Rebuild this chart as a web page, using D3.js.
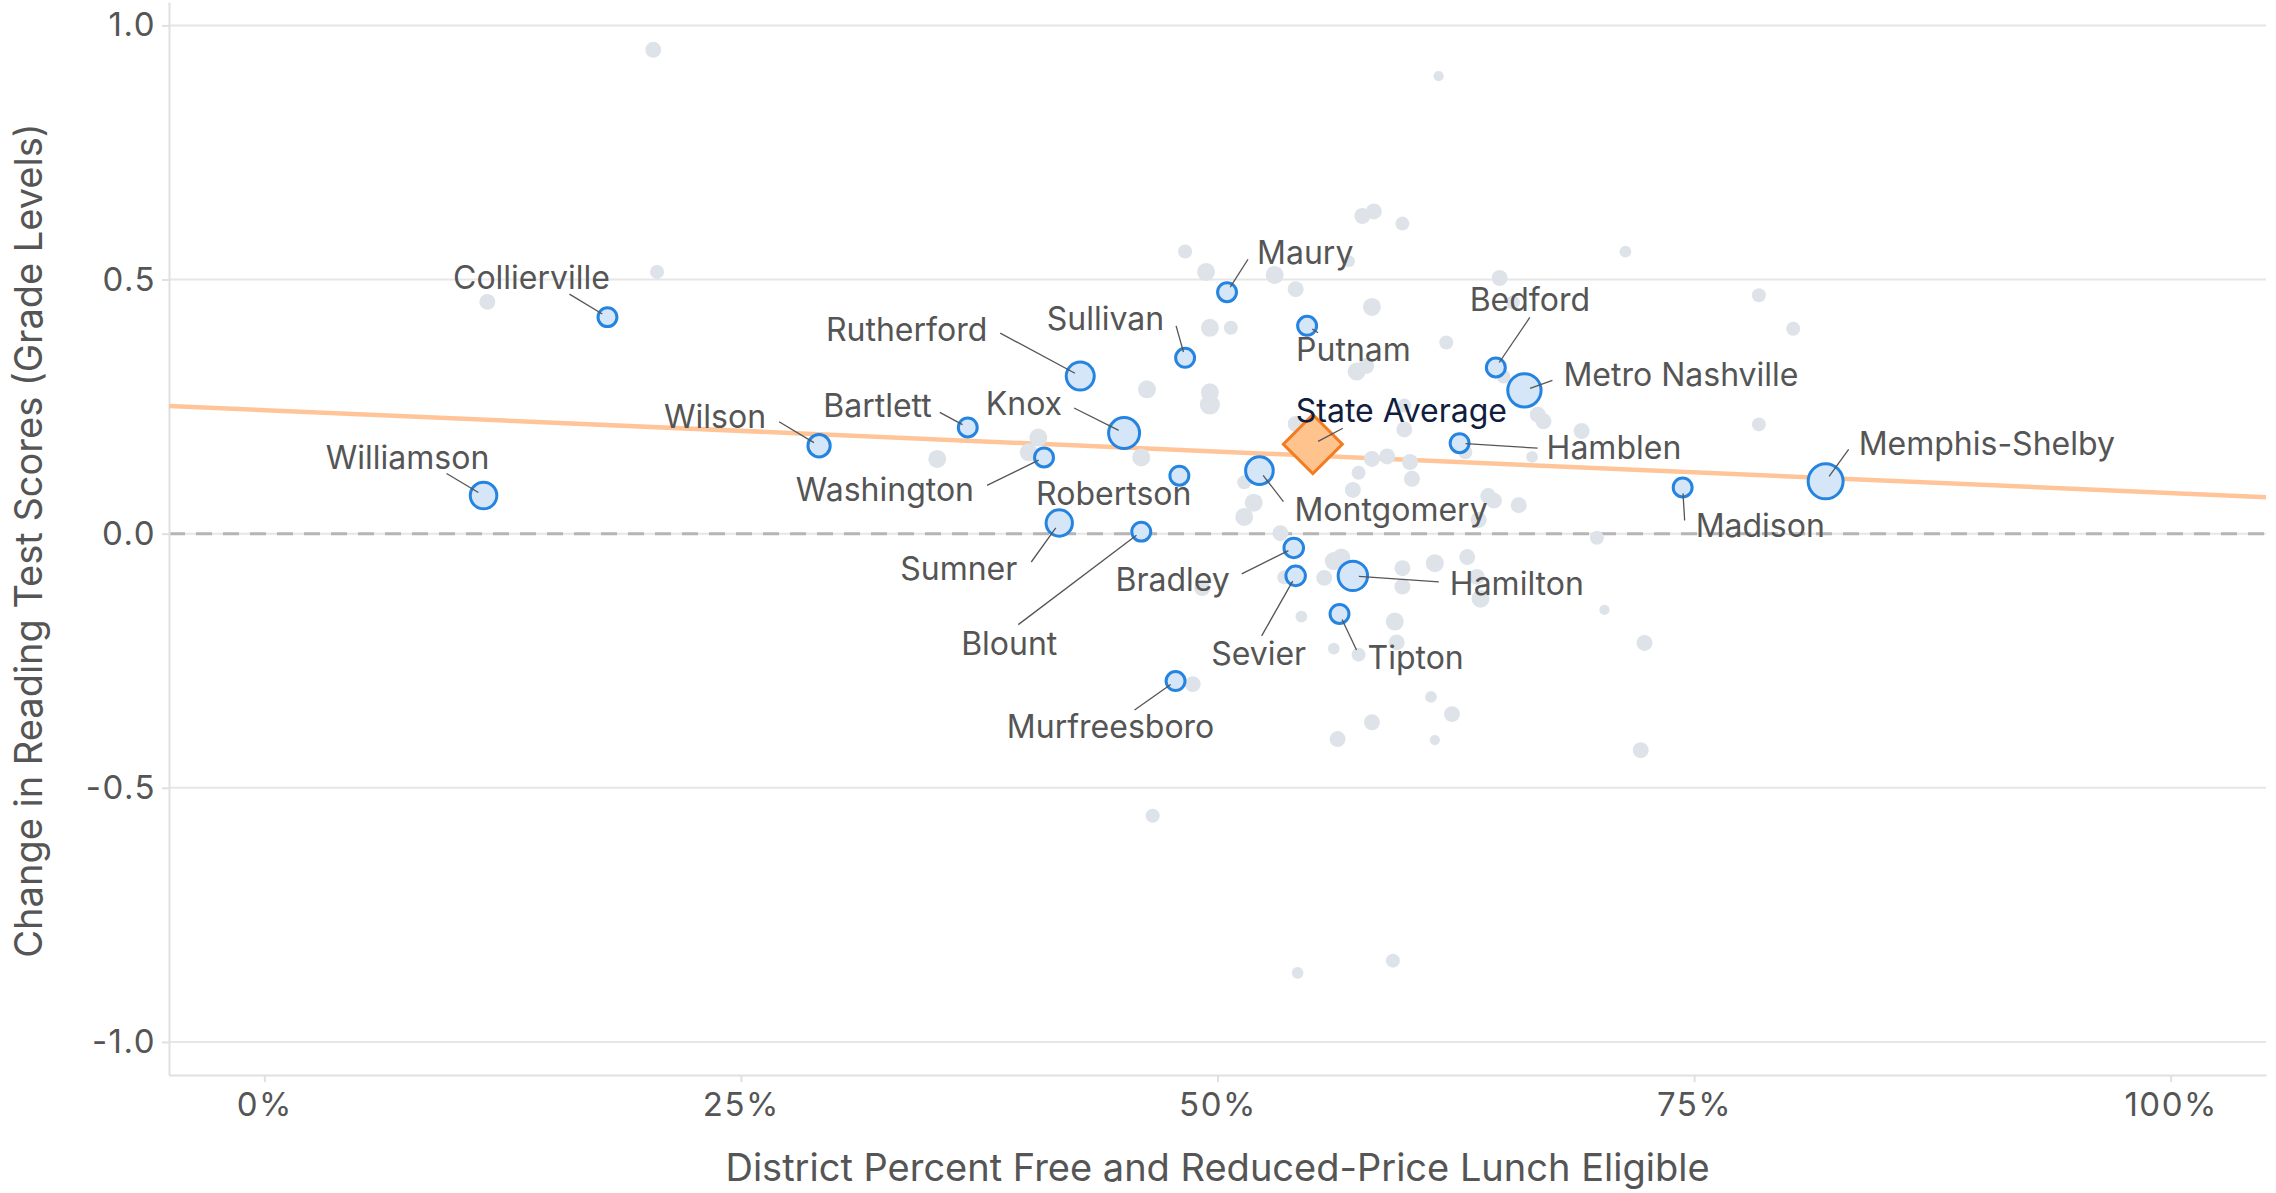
<!DOCTYPE html>
<html>
<head>
<meta charset="utf-8">
<script src="https://cdn.jsdelivr.net/npm/d3@7"></script>
<style>
body { margin: 0; background: #fff; }
text { font-family: Inter, "Noto Sans", sans-serif; }
</style>
</head>
<body>
<script>
//highlighted districts
let districtNames = ["Williamson", "Collierville", "Wilson", "Bartlett", "Washington", "Rutherford", "Knox", "Sullivan",
	"Robertson", "Sumner", "Blount", "Maury", "Montgomery", "Putnam", "Bradley", "Sevier", "Hamilton", "Tipton",
	"Murfreesboro", "Bedford", "Metro Nashville", "Hamblen", "Madison", "Memphis-Shelby"];
let districtFrl = [0.115, 0.180, 0.291, 0.369, 0.409, 0.428, 0.451, 0.483, 0.480, 0.417, 0.460, 0.505,
	0.522, 0.547, 0.540, 0.541, 0.571, 0.564, 0.478, 0.646, 0.661, 0.627, 0.744, 0.819];
let districtChange = [0.075, 0.426, 0.173, 0.209, 0.150, 0.310, 0.198, 0.346, 0.114, 0.021, 0.004, 0.475,
	0.124, 0.409, -0.028, -0.083, -0.083, -0.158, -0.290, 0.327, 0.282, 0.178, 0.091, 0.103];
let districtStudents = [61, 31, 43, 31, 31, 68, 83, 31, 31, 60, 31, 31, 66, 31, 33, 33, 75, 31, 31, 31, 96, 31, 31, 106]; //thousands

//all other districts
let otherFrl = [0.204, 0.117, 0.206, 0.616, 0.576, 0.582, 0.597, 0.483, 0.494, 0.530, 0.569, 0.541, 0.648, 0.581,
	0.496, 0.507, 0.620, 0.573, 0.578, 0.463, 0.496, 0.496, 0.668, 0.671, 0.598, 0.598, 0.691, 0.406, 0.401, 0.353,
	0.460, 0.665, 0.581, 0.589, 0.601, 0.574, 0.602, 0.514, 0.571, 0.519, 0.514, 0.642, 0.645, 0.658, 0.637, 0.533,
	0.561, 0.565, 0.597, 0.614, 0.631, 0.535, 0.556, 0.636, 0.597, 0.492, 0.638, 0.544, 0.593, 0.594, 0.561, 0.574,
	0.487, 0.612, 0.623, 0.581, 0.563, 0.614, 0.466, 0.542, 0.592, 0.703, 0.724, 0.722, 0.714, 0.784, 0.802, 0.784,
	0.699, 0.655, 0.650, 0.541, 0.630];
let otherChange = [0.952, 0.456, 0.515, 0.900, 0.625, 0.634, 0.610, 0.555, 0.515, 0.509, 0.536, 0.481, 0.503, 0.446,
	0.405, 0.405, 0.376, 0.319, 0.330, 0.284, 0.278, 0.254, 0.234, 0.221, 0.205, 0.252, 0.202, 0.189, 0.160, 0.147,
	0.150, 0.151, 0.147, 0.152, 0.141, 0.120, 0.108, 0.101, 0.086, 0.061, 0.033, 0.074, 0.065, 0.056, 0.027, 0.001,
	-0.054, -0.047, -0.068, -0.058, -0.046, -0.086, -0.087, -0.085, -0.104, -0.107, -0.128, -0.163, -0.173, -0.214, -0.226, -0.238,
	-0.296, -0.321, -0.355, -0.371, -0.404, -0.406, -0.555, -0.864, -0.840, -0.150, -0.215, -0.426, 0.555, 0.469, 0.403, 0.215,
	-0.008, 0.455, 0.309, 0.216, 0.160];
let otherStudents = [22, 22, 17, 9, 22, 22, 17, 17, 28, 28, 12, 22, 22, 28, 28, 17, 17, 28, 22, 28, 28, 35, 22, 22,
	22, 17, 22, 28, 28, 28, 28, 12, 22, 22, 22, 17, 22, 17, 22, 28, 28, 22, 22, 22, 22, 22, 28, 28, 22, 28, 22, 17,
	22, 22, 22, 22, 28, 12, 28, 22, 12, 17, 22, 12, 22, 22, 22, 9, 17, 12, 17, 9, 22, 22, 12, 17, 17, 17, 17, 17,
	17, 22, 17];

let stateFrl = 0.550;
let stateChange = 0.176;

//fitted trend line
let trendIntercept = 0.243;
let trendSlope = -0.163;

let xTicks = [0, 0.25, 0.5, 0.75, 1];
let yTicks = [-1, -0.5, 0, 0.5, 1];

let xTitle = "District Percent Free and Reduced-Price Lunch Eligible";
let yTitle = "Change in Reading Test Scores (Grade Levels)";

//label placement: anchor, text offset, leader end offset (px from the point)
let labelLayout = {
	"Collierville": ["middle", -76, -28, -38, -23],
	"Williamson": ["middle", -76, -27, -37, -22],
	"Wilson": ["end", -53, -18, -40, -24],
	"Rutherford": ["end", -93, -35, -80, -43],
	"Sullivan": ["end", -21, -28, -9, -32],
	"Maury": ["start", 30, -28, 21, -33],
	"Putnam": ["start", -11, 35, 11, 7],
	"Bedford": ["middle", 34, -56, 34, -50],
	"Metro Nashville": ["start", 39, -4, 28, -10],
	"Bartlett": ["end", -36, -10, -28, -15],
	"Knox": ["end", -62, -18, -50, -25],
	"Washington": ["end", -70, 44, -57, 28],
	"Robertson": ["end", 12, 29, null, null],
	"Montgomery": ["start", 35, 50, 24, 31],
	"Hamblen": ["start", 87, 16, 78, 5],
	"Hamilton": ["start", 97, 19, 86, 6],
	"Sumner": ["end", -42, 57, -28, 39],
	"Blount": ["middle", -132, 123, -123, 93],
	"Bradley": ["end", -64, 43, -52, 26],
	"Sevier": ["middle", -37, 89, -34, 60],
	"Tipton": ["start", 28, 55, 17, 36],
	"Murfreesboro": ["middle", -65, 57, -41, 29],
	"Madison": ["start", 13, 50, 2, 33],
	"Memphis-Shelby": ["start", 33, -26, 23, -32],
	"State Average": ["start", -17, -22, 30, -16]
};

let width = 2276;
let height = 1193;
let margin = {top: 2, right: 10, bottom: 118, left: 169};

let svg = d3.select("body").append("svg")
	.attr("width", width)
	.attr("height", height);

let x = d3.scaleLinear().domain([-0.05, 1.05]).range([margin.left, width - margin.right]);
let y = d3.scaleLinear().domain([-1.065, 1.046]).range([height - margin.bottom, margin.top]);
let r = d3.scaleSqrt().domain([0, 100]).range([0, 17]);

//grid
svg.append("g").selectAll("line")
	.data(yTicks)
	.join("line")
	.attr("x1", x.range()[0]).attr("x2", x.range()[1])
	.attr("y1", d => y(d)).attr("y2", d => y(d))
	.attr("stroke", "#e6e6e6")
	.attr("stroke-width", 2);

svg.append("line") //dashed zero line
	.attr("x1", x.range()[0]).attr("x2", x.range()[1])
	.attr("y1", y(0)).attr("y2", y(0))
	.attr("stroke", "#b5b5b5")
	.attr("stroke-width", 3)
	.attr("stroke-dasharray", "16 11");

//axes
let yG = svg.append("g")
	.attr("transform", `translate(${margin.left},0)`)
	.call(d3.axisLeft(y).tickValues(yTicks).tickSize(7).tickSizeOuter(0).tickPadding(6)
		.tickFormat(d => d.toFixed(1)));

let xG = svg.append("g")
	.attr("transform", `translate(0,${height - margin.bottom})`)
	.call(d3.axisBottom(x).tickValues(xTicks).tickSize(7).tickSizeOuter(0).tickPadding(11)
		.tickFormat(d => Math.round(d * 100) + "%"));

[xG, yG].forEach(g => {
	g.select(".domain").attr("stroke", "#e0e0e0").attr("stroke-width", 2);
	g.selectAll(".tick line").attr("stroke", "#e0e0e0").attr("stroke-width", 2);
	g.selectAll(".tick text").attr("fill", "#555").attr("font-size", 33)
		.attr("letter-spacing", 1.5)
		.attr("font-family", "Inter, 'Noto Sans', sans-serif");
});

svg.append("text")
	.attr("x", (x.range()[0] + x.range()[1]) / 2)
	.attr("y", 1181)
	.attr("text-anchor", "middle")
	.attr("font-size", 38)
	.attr("fill", "#555")
	.text(xTitle);

svg.append("text")
	.attr("transform", `translate(42,${(y.range()[0] + y.range()[1]) / 2 + 2}) rotate(-90)`)
	.attr("text-anchor", "middle")
	.attr("font-size", 38)
	.attr("fill", "#555")
	.text(yTitle);

//trend line
let trendX = x.domain();
svg.append("line")
	.attr("x1", x(trendX[0])).attr("y1", y(trendIntercept + trendSlope * trendX[0]))
	.attr("x2", x(trendX[1])).attr("y2", y(trendIntercept + trendSlope * trendX[1]))
	.attr("stroke", "#ffc599")
	.attr("stroke-width", 4.5);

//other districts
let others = otherFrl.map((f, i) => ({frl: f, change: otherChange[i], students: otherStudents[i]}));
svg.append("g").selectAll("circle")
	.data(others)
	.join("circle")
	.attr("cx", d => x(d.frl))
	.attr("cy", d => y(d.change))
	.attr("r", d => r(d.students))
	.attr("fill", "#dee3e9");

//highlighted districts
let districts = districtNames.map((n, i) => ({name: n, frl: districtFrl[i], change: districtChange[i], students: districtStudents[i]}));
svg.append("g").selectAll("circle")
	.data(districts)
	.join("circle")
	.attr("cx", d => x(d.frl))
	.attr("cy", d => y(d.change))
	.attr("r", d => r(d.students))
	.attr("fill", "#d4e6f8")
	.attr("stroke", "#2584e0")
	.attr("stroke-width", 3);

//state average diamond
svg.append("path")
	.attr("d", d3.symbol(d3.symbolSquare, 1740)())
	.attr("transform", `translate(${x(stateFrl)},${y(stateChange)}) rotate(45)`)
	.attr("fill", "#ffc48e")
	.attr("stroke", "#f47c20")
	.attr("stroke-width", 3);

//labels and leader lines
let labels = districts.map(d => ({name: d.name, px: x(d.frl), py: y(d.change), color: "#555"}));
labels.push({name: "State Average", px: x(stateFrl), py: y(stateChange), color: "#111d3c"});

labels.forEach(l => {
	let [anchor, tx, ty, lx, ly] = labelLayout[l.name];
	if (lx !== null) {
		let len = Math.hypot(lx, ly);
		svg.append("line")
			.attr("x1", l.px + lx / len * 6).attr("y1", l.py + ly / len * 6)
			.attr("x2", l.px + lx).attr("y2", l.py + ly)
			.attr("stroke", "#555")
			.attr("stroke-width", 1.3);
	}
	svg.append("text")
		.attr("x", l.px + tx)
		.attr("y", l.py + ty)
		.attr("text-anchor", anchor)
		.attr("font-size", 32)
		.attr("fill", l.color)
		.text(l.name);
});
</script>
</body>
</html>
